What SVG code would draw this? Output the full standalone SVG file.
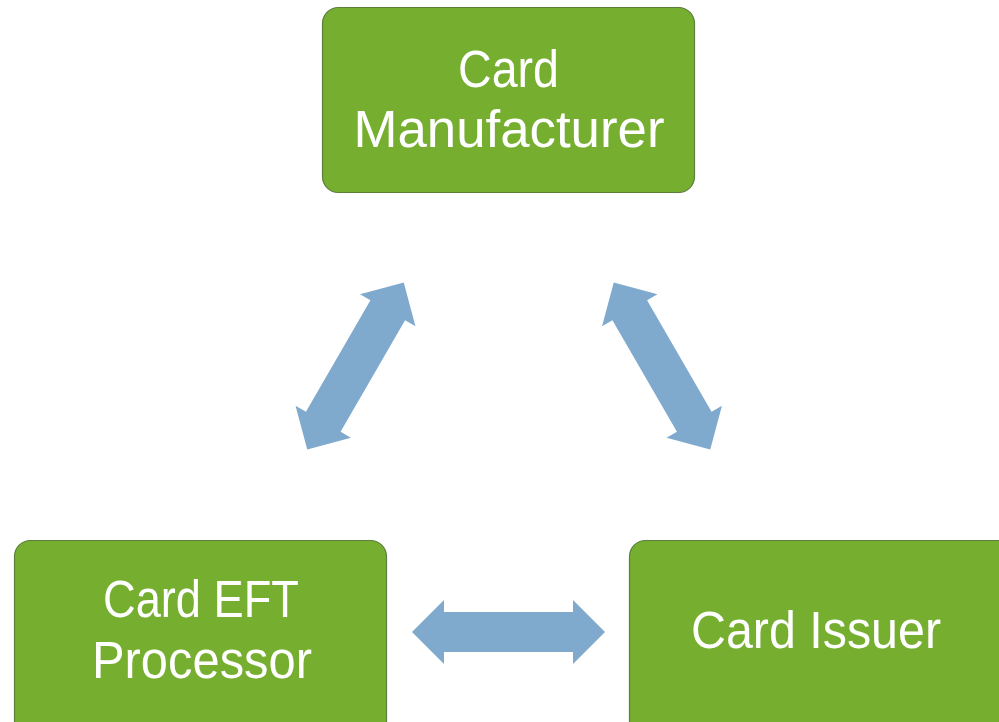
<svg xmlns="http://www.w3.org/2000/svg" width="999" height="722" viewBox="0 0 999 722">
<defs>
<style>
.box{fill:#76AF30;stroke:#5B7F3A;stroke-width:1.2}
.lbl{fill:#FFFFFF;font-family:"Liberation Sans",Arial,sans-serif;font-size:51px;text-anchor:middle}
.arr{fill:#7FAACE}
</style>
<path id="dbl" d="M-96.5,0 L-64.5,-32 L-64.5,-20 L64.5,-20 L64.5,-32 L96.5,0 L64.5,32 L64.5,20 L-64.5,20 L-64.5,32 Z"/>
</defs>
<rect width="999" height="722" fill="#FFFFFF"/>
<g id="connectors" class="arr">
<use href="#dbl" transform="translate(355.5,366) rotate(-60)"/>
<use href="#dbl" transform="translate(662,366) rotate(60)"/>
<use href="#dbl" transform="translate(508.5,632)"/>
</g>
<g id="card-manufacturer">
<rect class="box" x="322.5" y="7.5" width="372" height="185" rx="16"/>
<text class="lbl" x="508.5" y="87" textLength="101" lengthAdjust="spacingAndGlyphs">Card</text>
<text class="lbl" x="509" y="147" textLength="311" lengthAdjust="spacingAndGlyphs">Manufacturer</text>
</g>
<g id="card-eft-processor">
<rect class="box" x="14.5" y="540.5" width="372" height="200" rx="16"/>
<text class="lbl" x="201" y="617" textLength="196" lengthAdjust="spacingAndGlyphs">Card EFT</text>
<text class="lbl" x="202" y="678" textLength="220" lengthAdjust="spacingAndGlyphs">Processor</text>
</g>
<g id="card-issuer">
<rect class="box" x="629.5" y="540.5" width="390" height="200" rx="16"/>
<text class="lbl" x="816" y="648" textLength="250" lengthAdjust="spacingAndGlyphs">Card Issuer</text>
</g>
</svg>
